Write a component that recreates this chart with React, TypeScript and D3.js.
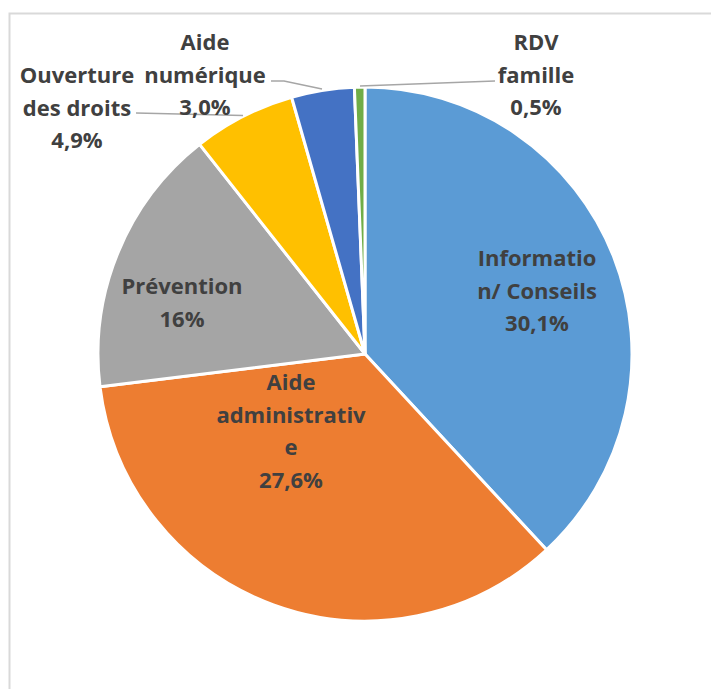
import React from "react";
import * as d3 from "d3";

const categories = ["Information/ Conseils", "Aide administrative", "Prévention", "Ouverture des droits", "Aide numérique", "RDV famille"];
const values = [30.1, 27.6, 12.9, 4.9, 3.0, 0.5];
const colors = ["#5B9BD5", "#ED7D31", "#A5A5A5", "#FFC000", "#4472C4", "#70AD47"];
const labelLines = [
  ["Informatio", "n/ Conseils", "30,1%"],
  ["Aide", "administrativ", "e", "27,6%"],
  ["Prévention", "16%"],
  ["Ouverture", "des droits", "4,9%"],
  ["Aide", "numérique", "3,0%"],
  ["RDV", "famille", "0,5%"],
];
// label anchor (center x, first baseline)
const labelPos: [number, number][] = [
  [537, 266],
  [291, 390],
  [182, 294],
  [77, 83],
  [205, 50],
  [536, 50],
];
const leaders: [number, number][][] = [
  [],
  [],
  [],
  [[136, 113], [243, 115.5]],
  [[271, 81], [284, 81], [322, 89]],
  [[360, 86], [495, 81]],
];

export default function App() {
  const W = 711, H = 689;
  const cx = 365, cy = 354, r = 267;
  const pie = d3.pie<number>().sort(null).value((d) => d);
  const arcs = pie(values);
  const arc = d3.arc<d3.PieArcDatum<number>>().innerRadius(0).outerRadius(r);
  const line = d3.line();
  return (
    <svg width={W} height={H} style={{ position: "absolute", left: 0, top: 0, background: "#fff" }}>
      <rect x={9.5} y={13.5} width={800} height={800} fill="#fff" stroke="#d9d9d9" strokeWidth={2} />
      <g transform={`translate(${cx},${cy})`}>
        {arcs.map((a, i) => (
          <path key={categories[i]} d={arc(a) || ""} fill={colors[i]} stroke="#fff" strokeWidth={3} strokeLinejoin="round" />
        ))}
      </g>
      {leaders.map((pts, i) =>
        pts.length ? <path key={i} d={line(pts) || ""} fill="none" stroke="#a6a6a6" strokeWidth={1.5} /> : null
      )}
      {labelLines.map((lines, i) => (
        <text key={i} fontFamily="'Open Sans', sans-serif" fontWeight="bold" fontSize={22} fill="#404040" textAnchor="middle">
          {lines.map((t, j) => (
            <tspan key={j} x={labelPos[i][0]} y={labelPos[i][1] + j * 32.5}>{t}</tspan>
          ))}
        </text>
      ))}
    </svg>
  );
}
